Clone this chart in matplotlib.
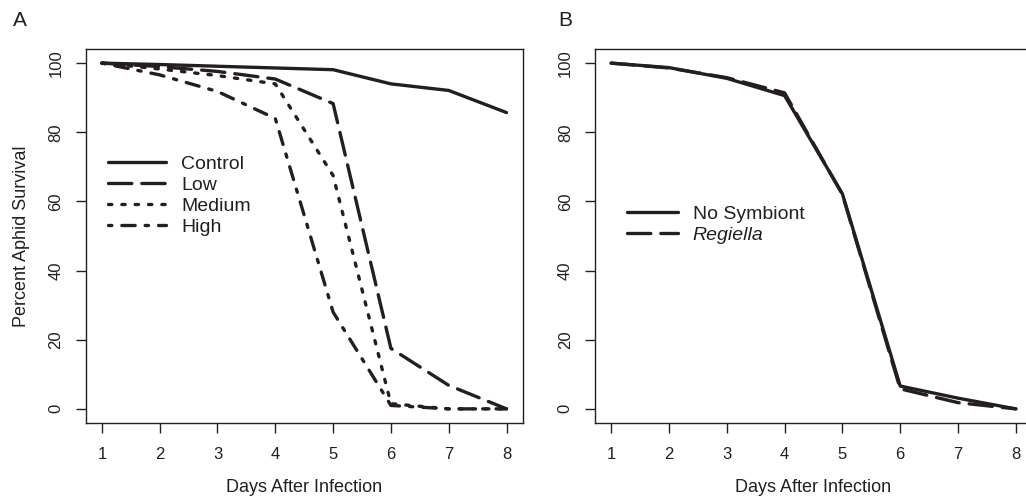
import matplotlib
matplotlib.use("Agg")
import matplotlib.pyplot as plt

plt.rcParams['font.family'] = ['Liberation Sans', 'DejaVu Sans']

days = [1, 2, 3, 4, 5, 6, 7, 8]

# Panel A: dose treatments
control = [100, 99.6, 99.1, 98.6, 98.1, 94.0, 92.1, 85.7]
low     = [100, 99.0, 97.6, 95.4, 88.3, 17.5, 6.8, 0]
medium  = [100, 98.3, 96.4, 94.0, 67.5, 1.5, 0, 0]
high    = [100, 96.6, 91.8, 84.0, 28.0, 1.0, 0, 0]

# Panel B: symbiont status
no_symbiont = [100, 98.7, 95.6, 90.6, 62.2, 6.6, 3.1, 0]
regiella    = [100, 98.6, 95.8, 91.4, 62.0, 5.8, 1.8, 0]

ink = '#231f20'
lw = 2.4
W, H = 1026, 496
fig = plt.figure(figsize=(W / 100, H / 100), dpi=100)

def px_axes(l, t, r, b):
    return fig.add_axes([l / W, 1 - b / H, (r - l) / W, (b - t) / H])

axA = px_axes(85.7, 49.3, 522.7, 422.7)
axB = px_axes(595.0, 49.3, 1032.0, 422.7)

styles = {
    'solid': dict(linestyle='-'),
    'long': dict(linestyle=(0, (7, 3))),
    'dot': dict(linestyle=(0, (1, 3))),
    'dashdot': dict(linestyle=(0, (1, 3, 4, 3))),
}

def draw(ax, y, label, st):
    ax.plot(days, y, color=ink, lw=lw, label=label,
            dash_capstyle='round', solid_capstyle='round',
            solid_joinstyle='round', dash_joinstyle='round', **styles[st])

draw(axA, control, 'Control', 'solid')
draw(axA, low, 'Low', 'long')
draw(axA, medium, 'Medium', 'dot')
draw(axA, high, 'High', 'dashdot')

draw(axB, no_symbiont, 'No Symbiont', 'solid')
draw(axB, regiella, 'Regiella', 'long')

for ax in (axA, axB):
    ax.set_xlim(0.72, 8.28)
    ax.set_ylim(-4, 104)
    ax.set_xticks(days)
    ax.set_yticks([0, 20, 40, 60, 80, 100])
    for s in ax.spines.values():
        s.set_linewidth(1.0)
        s.set_color(ink)
    ax.tick_params(axis='both', direction='out', length=7.5, width=1.0,
                   color=ink, labelcolor=ink, labelsize=12)
    ax.tick_params(axis='x', pad=10.3)
    ax.tick_params(axis='y', pad=8.5, labelrotation=90)
    for t in ax.get_yticklabels():
        t.set_va('center')
    ax.set_xlabel('Days After Infection', fontsize=13, color=ink)
    ax.xaxis.set_label_coords(0.5, (422.7 - 478.5) / 373.4)

axA.set_ylabel('Percent Aphid Survival', fontsize=13, color=ink)
axA.yaxis.set_label_coords((30 - 85.7) / 437, 0.5)

legA = axA.legend(loc='center left', bbox_to_anchor=((108 - 85.7) / 437, (422.7 - 195.7) / 373.4),
                  frameon=False, fontsize=14, handlelength=3.0, handletextpad=0.75,
                  labelspacing=0.17, borderpad=0, borderaxespad=0)
legB = axB.legend(loc='center left', bbox_to_anchor=((626.7 - 595) / 437, (422.7 - 224.3) / 373.4),
                  frameon=False, fontsize=14, handlelength=2.65, handletextpad=0.75,
                  labelspacing=0.18, borderpad=0, borderaxespad=0)
for leg in (legA, legB):
    for t in leg.get_texts():
        t.set_color(ink)
legB.get_texts()[1].set_fontstyle('italic')

fig.text(20 / W, 1 - 20 / H, 'A', fontsize=15, color=ink, ha='center', va='center')
fig.text(565 / W, 1 - 20 / H, 'B', fontsize=15, color=ink, ha='center', va='center')

fig.savefig('out.png', dpi=100, facecolor='white')
